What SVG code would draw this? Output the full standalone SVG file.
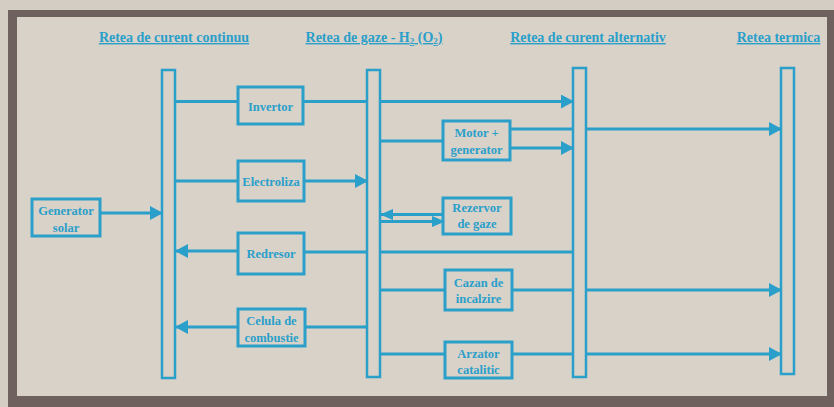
<svg xmlns="http://www.w3.org/2000/svg" width="834" height="407" viewBox="0 0 834 407">
<style>
.bus{fill:none;stroke:#2a9fca;stroke-width:2.5}
.box{fill:none;stroke:#2a9fca;stroke-width:3}
.ln{fill:none;stroke:#2a9fca;stroke-width:3}
.t{font-family:"Liberation Serif","Times New Roman",serif;font-weight:bold;font-size:12.5px;fill:#2a9fca;text-anchor:middle}
.h{font-family:"Liberation Serif","Times New Roman",serif;font-weight:bold;font-size:14px;fill:#2a9fca;text-anchor:middle;text-decoration:underline}
</style>
<defs>
<marker id="a" markerUnits="userSpaceOnUse" markerWidth="14" markerHeight="14" refX="12" refY="7" orient="auto"><path d="M0,0 L13,7 L0,14 z" fill="#2a9fca"/></marker>
<marker id="s" markerUnits="userSpaceOnUse" markerWidth="14" markerHeight="12" refX="12" refY="5.5" orient="auto"><path d="M0,0 L13,5.5 L0,11 z" fill="#2a9fca"/></marker>
</defs>
<rect x="0" y="0" width="834" height="407" fill="#d3cdc3"/>
<rect x="8" y="10" width="826" height="397" fill="#6f625e"/>
<rect x="17" y="17" width="810" height="379" fill="#d8d2c9"/>

<g id="titles">
<text class="h" x="174" y="42">Retea de curent continuu</text>
<text class="h" x="374" y="42">Retea de gaze - H<tspan font-size="9" dy="2">2</tspan><tspan dy="-2"> (O</tspan><tspan font-size="9" dy="2">2</tspan><tspan dy="-2">)</tspan></text>
<text class="h" x="588" y="42">Retea de curent alternativ</text>
<text class="h" x="778.5" y="42">Retea termica</text>
</g>

<g id="bus-cc"><rect class="bus" x="162" y="70" width="13" height="308"/></g>
<g id="bus-gaze"><rect class="bus" x="367" y="70" width="13" height="307"/></g>
<g id="bus-ca"><rect class="bus" x="573" y="68" width="13" height="309"/></g>
<g id="bus-termica"><rect class="bus" x="781" y="68" width="13" height="306"/></g>

<g id="connectors">
<!-- Invertor row -->
<path class="ln" d="M175,101.5 H238 M303,101.5 H367"/>
<path class="ln" d="M380,101.5 H573" marker-end="url(#a)"/>
<!-- Motor + generator -->
<path class="ln" d="M380,141 H443"/>
<path class="ln" d="M510,129 H573 M586,129"/>
<path class="ln" d="M586,129 H781" marker-end="url(#a)"/>
<path class="ln" d="M510,148 H573" marker-end="url(#a)"/>
<!-- Electroliza -->
<path class="ln" d="M175,181 H238"/>
<path class="ln" d="M304,181 H367" marker-end="url(#a)"/>
<!-- Generator solar -->
<path class="ln" d="M100,213 H162" marker-end="url(#a)"/>
<!-- Rezervor double -->
<path class="ln" d="M443,214.5 H381" marker-end="url(#s)" stroke-width="2.5"/>
<path class="ln" d="M381,221.5 H444" marker-end="url(#s)" stroke-width="2.5"/>
<!-- Redresor -->
<path class="ln" d="M573,252 H380 M367,252 H304"/>
<path class="ln" d="M238,251 H176" marker-end="url(#a)"/>
<!-- Cazan -->
<path class="ln" d="M380,290 H445 M512,290 H573"/>
<path class="ln" d="M586,290 H781" marker-end="url(#a)"/>
<!-- Celula -->
<path class="ln" d="M367,327 H305"/>
<path class="ln" d="M238,327 H176" marker-end="url(#a)"/>
<!-- Arzator -->
<path class="ln" d="M380,354 H445 M512,354 H573"/>
<path class="ln" d="M586,354 H781" marker-end="url(#a)"/>
</g>

<g id="generator-solar"><rect class="box" x="32" y="199" width="68" height="37"/><text class="t" x="66" y="215">Generator</text><text class="t" x="66" y="232">solar</text></g>
<g id="invertor"><rect class="box" x="238" y="87" width="65" height="37"/><text class="t" x="270.5" y="111">Invertor</text></g>
<g id="electroliza"><rect class="box" x="238" y="161" width="66" height="40"/><text class="t" x="271" y="186">Electroliza</text></g>
<g id="redresor"><rect class="box" x="238" y="233" width="66" height="41"/><text class="t" x="271" y="258">Redresor</text></g>
<g id="celula"><rect class="box" x="238" y="309" width="67" height="37"/><text class="t" x="271.5" y="325">Celula de</text><text class="t" x="271.5" y="342">combustie</text></g>
<g id="motor-generator"><rect class="box" x="443" y="121" width="67" height="39"/><text class="t" x="476.5" y="137">Motor +</text><text class="t" x="476.5" y="154">generator</text></g>
<g id="rezervor"><rect class="box" x="443" y="198" width="68" height="36"/><text class="t" x="477" y="212">Rezervor</text><text class="t" x="477" y="228">de gaze</text></g>
<g id="cazan"><rect class="box" x="445" y="270" width="67" height="40"/><text class="t" x="478.5" y="287">Cazan de</text><text class="t" x="478.5" y="303">incalzire</text></g>
<g id="arzator"><rect class="box" x="445" y="342" width="67" height="36"/><text class="t" x="478.5" y="358">Arzator</text><text class="t" x="478.5" y="374">catalitic</text></g>
</svg>
